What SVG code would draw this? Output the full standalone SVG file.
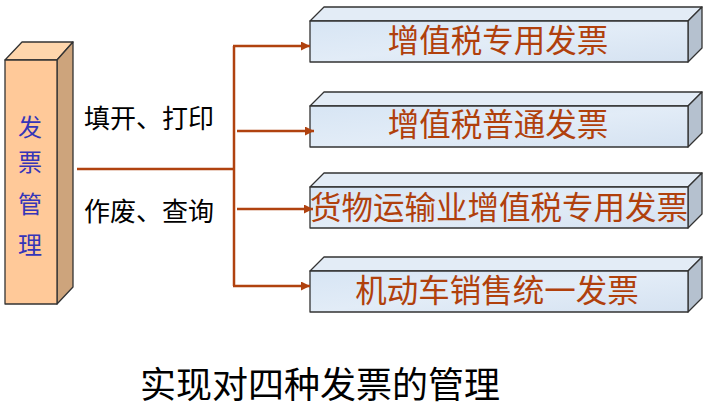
<svg xmlns="http://www.w3.org/2000/svg" width="708" height="409" viewBox="0 0 708 409">
<style>
.edge{stroke:#333;stroke-width:1.3;stroke-linejoin:round}
.pf{fill:#FFC999}.pt{fill:#FFD6AC}.ps{fill:#CDA47C}
.bf{fill:url(#bfg)}.bt{fill:#E3ECF6}.bs{fill:#B5C1CF}
.conn{fill:none;stroke:#B0420F;stroke-width:2.5}
.btxt{font-family:"Noto Sans CJK SC","Liberation Sans",sans-serif;font-size:31.5px;fill:#B0400C;text-anchor:middle}
.lbl{font-family:"Noto Sans CJK SC","Liberation Sans",sans-serif;font-size:26px;fill:#000}
.ptxt{font-family:"Noto Sans CJK SC","Liberation Sans",sans-serif;font-size:24px;fill:#3535B8;text-anchor:middle}
.title{font-family:"Noto Sans CJK SC","Liberation Sans",sans-serif;font-size:36px;fill:#000;text-anchor:middle}
</style>
<defs>
<linearGradient id="bfg" x1="0" y1="0" x2="1" y2="1">
<stop offset="0" stop-color="#D7E5F4"/>
<stop offset="0.5" stop-color="#E2ECF7"/>
<stop offset="1" stop-color="#D5E2F1"/>
</linearGradient>
<marker id="ah" markerUnits="userSpaceOnUse" markerWidth="10" markerHeight="9" refX="9" refY="4.5" orient="auto">
<path d="M0,0 L9,4.5 L0,9 z" fill="#B0420F"/>
</marker>
</defs>
<rect width="708" height="409" fill="#fff"/>

<g id="pillar">
<polygon class="pt edge" points="5,60 22,42 73,42 57,60"/>
<polygon class="ps edge" points="57,60 73,42 73,287 57,304"/>
<rect class="pf edge" x="5" y="60" width="52" height="244"/>
<text class="ptxt" x="30" y="136">发</text>
<text class="ptxt" x="30" y="171">票</text>
<text class="ptxt" x="30" y="213">管</text>
<text class="ptxt" x="30" y="254">理</text>
</g>

<g id="box1">
<polygon class="bt edge" points="310,21 324,7 702,7 688,21"/>
<polygon class="bs edge" points="688,21 702,7 702,48 688,62"/>
<rect class="bf edge" x="310" y="21" width="378" height="41"/>
<text class="btxt" x="498" y="52">增值税专用发票</text>
</g>
<g id="box2">
<polygon class="bt edge" points="310,106 324,92 702,92 688,106"/>
<polygon class="bs edge" points="688,106 702,92 702,133 688,147"/>
<rect class="bf edge" x="310" y="106" width="378" height="41"/>
<text class="btxt" x="498" y="136">增值税普通发票</text>
</g>
<g id="box3">
<polygon class="bt edge" points="310,187 324,173 702,173 688,187"/>
<polygon class="bs edge" points="688,187 702,173 702,214 688,228"/>
<rect class="bf edge" x="310" y="187" width="378" height="41"/>
<text class="btxt" x="499" y="219">货物运输业增值税专用发票</text>
</g>
<g id="box4">
<polygon class="bt edge" points="310,271 324,257 702,257 688,271"/>
<polygon class="bs edge" points="688,271 702,257 702,298 688,312"/>
<rect class="bf edge" x="310" y="271" width="378" height="41"/>
<text class="btxt" x="497" y="302">机动车销售统一发票</text>
</g>

<g id="connectors">
<path class="conn" d="M77,169 H234"/>
<path class="conn" d="M234,286 V46"/>
<path class="conn" d="M233,46 H310" marker-end="url(#ah)"/>
<path class="conn" d="M237,131 H314" marker-end="url(#ah)"/>
<path class="conn" d="M237,209 H313" marker-end="url(#ah)"/>
<path class="conn" d="M233,286 H310" marker-end="url(#ah)"/>
</g>

<g id="labels">
<text class="lbl" x="84" y="128">填开、打印</text>
<text class="lbl" x="84" y="221">作废、查询</text>
<text class="title" x="320" y="398">实现对四种发票的管理</text>
</g>
</svg>
